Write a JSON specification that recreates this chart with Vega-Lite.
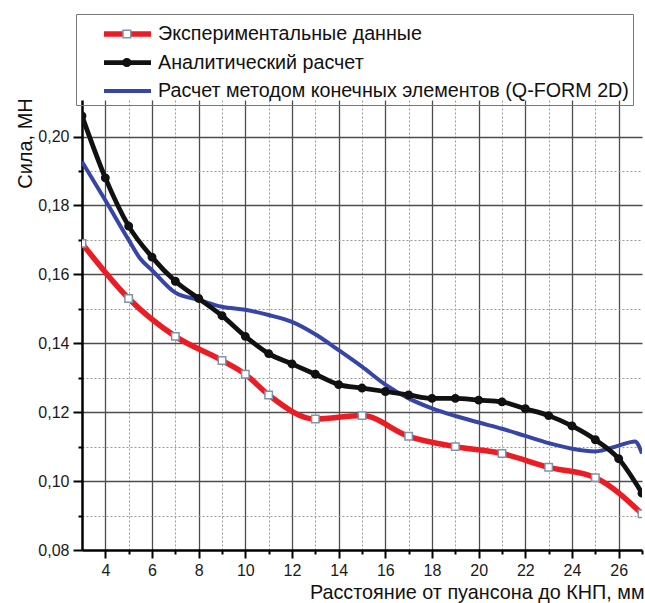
{
  "$schema": "https://vega.github.io/schema/vega-lite/v6.json",
  "width": 560,
  "height": 450,
  "autosize": {"type": "none"},
  "padding": {"left": 82, "top": 100, "right": 3, "bottom": 53},
  "background": "white",
  "config": {"view": {"stroke": null}, "font": "Liberation Sans"},
  "data": {
    "values": [
      {"series": "Экспериментальные данные", "distance": 3, "force": 0.169},
      {"series": "Экспериментальные данные", "distance": 5, "force": 0.153},
      {"series": "Экспериментальные данные", "distance": 7, "force": 0.142},
      {"series": "Экспериментальные данные", "distance": 9, "force": 0.135},
      {"series": "Экспериментальные данные", "distance": 10, "force": 0.131},
      {"series": "Экспериментальные данные", "distance": 11, "force": 0.125},
      {"series": "Экспериментальные данные", "distance": 13, "force": 0.118},
      {"series": "Экспериментальные данные", "distance": 15, "force": 0.119},
      {"series": "Экспериментальные данные", "distance": 17, "force": 0.113},
      {"series": "Экспериментальные данные", "distance": 19, "force": 0.110},
      {"series": "Экспериментальные данные", "distance": 21, "force": 0.108},
      {"series": "Экспериментальные данные", "distance": 23, "force": 0.104},
      {"series": "Экспериментальные данные", "distance": 25, "force": 0.101},
      {"series": "Экспериментальные данные", "distance": 27, "force": 0.0905},

      {"series": "Расчет методом конечных элементов (Q-FORM 2D)", "distance": 3, "force": 0.1927},
      {"series": "Расчет методом конечных элементов (Q-FORM 2D)", "distance": 4, "force": 0.1815},
      {"series": "Расчет методом конечных элементов (Q-FORM 2D)", "distance": 5, "force": 0.170},
      {"series": "Расчет методом конечных элементов (Q-FORM 2D)", "distance": 5.5, "force": 0.1645},
      {"series": "Расчет методом конечных элементов (Q-FORM 2D)", "distance": 6, "force": 0.1612},
      {"series": "Расчет методом конечных элементов (Q-FORM 2D)", "distance": 7, "force": 0.1547},
      {"series": "Расчет методом конечных элементов (Q-FORM 2D)", "distance": 8, "force": 0.1526},
      {"series": "Расчет методом конечных элементов (Q-FORM 2D)", "distance": 9, "force": 0.1506},
      {"series": "Расчет методом конечных элементов (Q-FORM 2D)", "distance": 10, "force": 0.1497},
      {"series": "Расчет методом конечных элементов (Q-FORM 2D)", "distance": 11, "force": 0.1482},
      {"series": "Расчет методом конечных элементов (Q-FORM 2D)", "distance": 12, "force": 0.1462},
      {"series": "Расчет методом конечных элементов (Q-FORM 2D)", "distance": 13, "force": 0.1426},
      {"series": "Расчет методом конечных элементов (Q-FORM 2D)", "distance": 14, "force": 0.138},
      {"series": "Расчет методом конечных элементов (Q-FORM 2D)", "distance": 15, "force": 0.1332},
      {"series": "Расчет методом конечных элементов (Q-FORM 2D)", "distance": 16, "force": 0.128},
      {"series": "Расчет методом конечных элементов (Q-FORM 2D)", "distance": 17, "force": 0.124},
      {"series": "Расчет методом конечных элементов (Q-FORM 2D)", "distance": 18, "force": 0.1211},
      {"series": "Расчет методом конечных элементов (Q-FORM 2D)", "distance": 19, "force": 0.1189},
      {"series": "Расчет методом конечных элементов (Q-FORM 2D)", "distance": 20, "force": 0.117},
      {"series": "Расчет методом конечных элементов (Q-FORM 2D)", "distance": 21, "force": 0.1152},
      {"series": "Расчет методом конечных элементов (Q-FORM 2D)", "distance": 22, "force": 0.1131},
      {"series": "Расчет методом конечных элементов (Q-FORM 2D)", "distance": 23, "force": 0.111},
      {"series": "Расчет методом конечных элементов (Q-FORM 2D)", "distance": 24, "force": 0.1094},
      {"series": "Расчет методом конечных элементов (Q-FORM 2D)", "distance": 25, "force": 0.1086},
      {"series": "Расчет методом конечных элементов (Q-FORM 2D)", "distance": 26, "force": 0.1103},
      {"series": "Расчет методом конечных элементов (Q-FORM 2D)", "distance": 26.7, "force": 0.1115},
      {"series": "Расчет методом конечных элементов (Q-FORM 2D)", "distance": 27, "force": 0.108},

      {"series": "Аналитический расчет", "distance": 3, "force": 0.206},
      {"series": "Аналитический расчет", "distance": 4, "force": 0.188},
      {"series": "Аналитический расчет", "distance": 5, "force": 0.174},
      {"series": "Аналитический расчет", "distance": 6, "force": 0.165},
      {"series": "Аналитический расчет", "distance": 7, "force": 0.158},
      {"series": "Аналитический расчет", "distance": 8, "force": 0.153},
      {"series": "Аналитический расчет", "distance": 9, "force": 0.148},
      {"series": "Аналитический расчет", "distance": 10, "force": 0.142},
      {"series": "Аналитический расчет", "distance": 11, "force": 0.137},
      {"series": "Аналитический расчет", "distance": 12, "force": 0.134},
      {"series": "Аналитический расчет", "distance": 13, "force": 0.131},
      {"series": "Аналитический расчет", "distance": 14, "force": 0.128},
      {"series": "Аналитический расчет", "distance": 15, "force": 0.127},
      {"series": "Аналитический расчет", "distance": 16, "force": 0.126},
      {"series": "Аналитический расчет", "distance": 17, "force": 0.125},
      {"series": "Аналитический расчет", "distance": 18, "force": 0.124},
      {"series": "Аналитический расчет", "distance": 19, "force": 0.124},
      {"series": "Аналитический расчет", "distance": 20, "force": 0.1235},
      {"series": "Аналитический расчет", "distance": 21, "force": 0.123},
      {"series": "Аналитический расчет", "distance": 22, "force": 0.121},
      {"series": "Аналитический расчет", "distance": 23, "force": 0.119},
      {"series": "Аналитический расчет", "distance": 24, "force": 0.116},
      {"series": "Аналитический расчет", "distance": 25, "force": 0.112},
      {"series": "Аналитический расчет", "distance": 26, "force": 0.1065},
      {"series": "Аналитический расчет", "distance": 27, "force": 0.0965}
    ]
  },
  "encoding": {
    "x": {
      "field": "distance",
      "type": "quantitative",
      "scale": {"domain": [3, 27], "nice": false, "zero": false},
      "axis": {
        "values": [4, 5, 6, 7, 8, 9, 10, 11, 12, 13, 14, 15, 16, 17, 18, 19, 20, 21, 22, 23, 24, 25, 26, 27],
        "labelExpr": "datum.value % 2 === 0 ? datum.label : ''",
        "labelFont": "Liberation Sans",
        "labelFontSize": 16,
        "labelColor": "#1a1a1a",
        "labelPadding": 4,
        "labelFlush": false,
        "labelOverlap": false,
        "domainColor": "#000",
        "domainWidth": 2.5,
        "tickColor": "#000",
        "tickWidth": 2,
        "tickSize": {"condition": {"test": "datum.value % 2 === 0", "value": 8}, "value": 4},
        "grid": true,
        "gridColor": {"condition": {"test": "datum.value % 2 === 0", "value": "#4d4d4d"}, "value": "#999"},
        "gridDash": {"condition": {"test": "datum.value % 2 === 0", "value": []}, "value": [2, 2]},
        "gridWidth": {"condition": {"test": "datum.value % 2 === 0", "value": 1.3}, "value": 1},
        "gridOpacity": {"condition": {"test": "datum.value === 27", "value": 0}, "value": 1},
        "title": "Расстояние от пуансона до КНП, мм",
        "titleFont": "Liberation Sans",
        "titleFontSize": 19.8,
        "titleFontWeight": "normal",
        "titleColor": "#111",
        "titleAlign": "right",
        "titleBaseline": "alphabetic",
        "titleX": 562,
        "titleY": 48
      }
    },
    "y": {
      "field": "force",
      "type": "quantitative",
      "scale": {"domain": [0.08, 0.2106], "nice": false, "zero": false},
      "axis": {
        "values": [0.08, 0.09, 0.10, 0.11, 0.12, 0.13, 0.14, 0.15, 0.16, 0.17, 0.18, 0.19, 0.20],
        "labelExpr": "round(datum.value * 100) % 2 === 0 ? replace(format(datum.value, '.2f'), '.', ',') : ''",
        "labelFont": "Liberation Sans",
        "labelFontSize": 16,
        "labelColor": "#1a1a1a",
        "labelPadding": 4,
        "labelFlush": false,
        "labelOverlap": false,
        "domainColor": "#000",
        "domainWidth": 2.5,
        "tickColor": "#000",
        "tickWidth": 2,
        "tickSize": {"condition": {"test": "round(datum.value * 100) % 2 === 0", "value": 9}, "value": 4},
        "grid": true,
        "gridColor": {"condition": {"test": "round(datum.value * 100) % 2 === 0", "value": "#4d4d4d"}, "value": "#999"},
        "gridDash": {"condition": {"test": "round(datum.value * 100) % 2 === 0", "value": []}, "value": [2, 2]},
        "gridWidth": {"condition": {"test": "round(datum.value * 100) % 2 === 0", "value": 1.3}, "value": 1},
        "gridOpacity": {"condition": {"test": "datum.value < 0.085", "value": 0}, "value": 1},
        "title": "Сила, МН",
        "titleFont": "Liberation Sans",
        "titleFontSize": 20,
        "titleFontWeight": "normal",
        "titleColor": "#111",
        "titleAngle": -90,
        "titleAlign": "center",
        "titleBaseline": "alphabetic",
        "titleX": -51,
        "titleY": 43
      }
    }
  },
  "layer": [
    {
      "mark": {"type": "line", "interpolate": "monotone", "clip": true, "strokeCap": "butt", "strokeJoin": "round"},
      "encoding": {
        "color": {
          "field": "series",
          "type": "nominal",
          "scale": {
            "domain": ["Экспериментальные данные", "Аналитический расчет", "Расчет методом конечных элементов (Q-FORM 2D)"],
            "range": ["#ec1c24", "#111111", "#3645a6"]
          },
          "legend": {
            "orient": "none",
            "legendX": -6,
            "legendY": -86,
            "direction": "vertical",
            "title": " ",
            "titleFontSize": 6,
            "titlePadding": 1,
            "padding": 4,
            "strokeColor": "#777",
            "symbolType": "stroke",
            "symbolSize": 2209,
            "symbolStrokeWidth": 5,
            "symbolOffset": 21,
            "clipHeight": 18,
            "rowPadding": 8.5,
            "labelFont": "Liberation Sans",
            "labelFontSize": 19.7,
            "labelColor": "#111",
            "labelOffset": 4,
            "labelLimit": 700,
            "zindex": 0
          }
        },
        "strokeWidth": {
          "field": "series",
          "type": "nominal",
          "scale": {
            "domain": ["Экспериментальные данные", "Аналитический расчет", "Расчет методом конечных элементов (Q-FORM 2D)"],
            "range": [5.5, 4, 5]
          },
          "legend": null
        }
      }
    },
    {
      "transform": [{"filter": "datum.series !== 'Расчет методом конечных элементов (Q-FORM 2D)'"}],
      "mark": {"type": "point", "clip": true, "filled": true, "opacity": 1, "size": 55, "strokeWidth": 1.5},
      "encoding": {
        "shape": {
          "field": "series",
          "type": "nominal",
          "scale": {"domain": ["Экспериментальные данные", "Аналитический расчет"], "range": ["square", "circle"]},
          "legend": {
            "orient": "none", "legendX": -6, "legendY": -86, "direction": "vertical",
            "title": " ", "titleFontSize": 6, "titlePadding": 1, "padding": 4,
            "symbolSize": 60, "symbolStrokeWidth": 1.5, "symbolOffset": 37,
            "clipHeight": 18, "rowPadding": 8.5,
            "labelFontSize": 19.7, "labelExpr": "''", "labelOffset": 4,
            "zindex": 1
          }
        },
        "fill": {
          "field": "series",
          "type": "nominal",
          "scale": {"domain": ["Экспериментальные данные", "Аналитический расчет"], "range": ["#ffffff", "#111111"]},
          "legend": {
            "orient": "none", "legendX": -6, "legendY": -86, "direction": "vertical",
            "title": " ", "titleFontSize": 6, "titlePadding": 1, "padding": 4,
            "symbolSize": 60, "symbolStrokeWidth": 1.5, "symbolOffset": 37,
            "clipHeight": 18, "rowPadding": 8.5,
            "labelFontSize": 19.7, "labelExpr": "''", "labelOffset": 4,
            "zindex": 1
          }
        },
        "stroke": {
          "field": "series",
          "type": "nominal",
          "scale": {"domain": ["Экспериментальные данные", "Аналитический расчет"], "range": ["#7f93aa", "#111111"]},
          "legend": {
            "orient": "none", "legendX": -6, "legendY": -86, "direction": "vertical",
            "title": " ", "titleFontSize": 6, "titlePadding": 1, "padding": 4,
            "symbolSize": 60, "symbolStrokeWidth": 1.5, "symbolOffset": 37,
            "clipHeight": 18, "rowPadding": 8.5,
            "labelFontSize": 19.7, "labelExpr": "''", "labelOffset": 4,
            "zindex": 1
          }
        }
      }
    }
  ]
}
